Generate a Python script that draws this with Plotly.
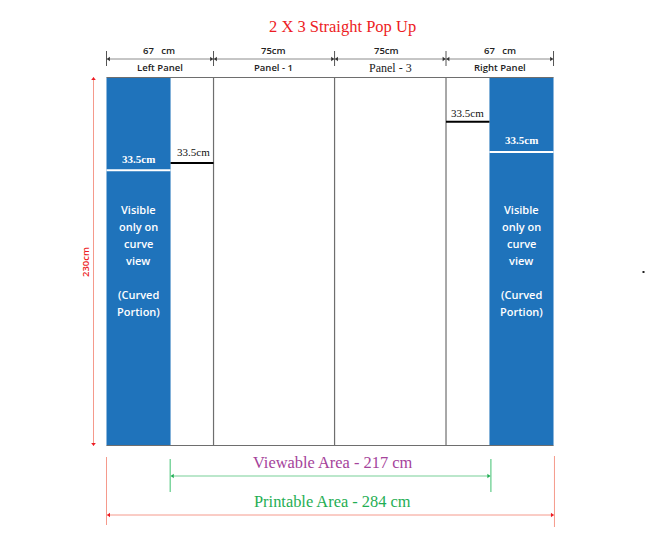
import plotly.graph_objects as go

W, H = 645, 546
PX_X, PX_Y = 1.574, 1.6      # pixels per cm as drawn in the reference
OX, OY = 106.5, 445.5        # pixel position of the wall's bottom-left corner

# Values, in cm on the drawing
panel_edges = [0, 68, 144.9, 215.7, 284]
wall_height = 230
left_blue = [0, 40.7]
right_blue = [243.3, 284]
left_white_y = 172
left_black_y = 176.5
right_white_y = 183.4
right_black_y = 202.3
viewable = [40.5, 244.2]
printable = [0, 284.6]
top_labels = ["Left Panel", "Panel - 1", "Panel - 3", "Right Panel"]
top_sizes = ["67   cm", "75cm", "75cm", "67   cm"]
note_lines = ["Visible", "only on", "curve", "view", "", "(Curved", "Portion)"]

BLUE, GRAY, RED, SALMON, GREEN, LGREEN = "#1f73bb", "#6e6e6e", "#ed1c24", "#f59a8c", "#1fae54", "#a5dfba"
SANS = "Open Sans"
SERIF = "Liberation Serif"

X = lambda p: (p - OX) / PX_X
Y = lambda p: (OY - p) / PX_Y

fig = go.Figure()


def line(xs, ys, color, width=1):
    fig.add_trace(go.Scatter(x=xs, y=ys, mode="lines", line=dict(color=color, width=width),
                             hoverinfo="skip", showlegend=False))


def heads(xs, ys, symbols, color, size=4):
    fig.add_trace(go.Scatter(x=xs, y=ys, mode="markers",
                             marker=dict(symbol=symbols, color=color, size=size),
                             hoverinfo="skip", showlegend=False))


def rect(x0, x1, color):
    fig.add_trace(go.Scatter(x=[x0, x1, x1, x0, x0], y=[0, 0, wall_height, wall_height, 0],
                             mode="lines", fill="toself", fillcolor=color, line=dict(width=0),
                             hoverinfo="skip", showlegend=False))


def text(px, py, s, size, color, family=SANS, weight=400, angle=0):
    fig.add_annotation(x=X(px), y=Y(py), text=s, showarrow=False, textangle=angle,
                       font=dict(family=family, size=size, color=color, weight=weight))


# blue curved portions
rect(*left_blue, BLUE)
rect(*right_blue, BLUE)

# wall outline and panel dividers
line([panel_edges[0], panel_edges[-1]], [wall_height, wall_height], GRAY, 1.2)
line([panel_edges[0], panel_edges[-1]], [0, 0], GRAY, 1.2)
for e in panel_edges[1:-1]:
    line([e, e], [0, wall_height], GRAY, 1.2)

# 33.5 cm height markers
line(left_blue, [left_white_y] * 2, "white", 2)
line(right_blue, [right_white_y] * 2, "white", 2)
line([left_blue[1], panel_edges[1]], [left_black_y] * 2, "black", 2)
line([panel_edges[3], right_blue[0]], [right_black_y] * 2, "black", 2)

# top dimension line with ticks
dim_y, tick_lo, tick_hi = Y(59), Y(66), Y(51)
line([panel_edges[0], panel_edges[-1]], [dim_y] * 2, "#8c8c8c", 1)
for i, e in enumerate(panel_edges):
    line([e, e], [tick_lo, tick_hi], "#555555", 1)
    syms, xs = [], []
    if i > 0:
        xs.append(e - 1.5); syms.append("triangle-right")
    if i < len(panel_edges) - 1:
        xs.append(e + 1.5); syms.append("triangle-left")
    heads(xs, [dim_y] * len(xs), syms, "#333333", 4)

# height dimension
hx = X(93.5)
line([hx, hx], [0, wall_height], SALMON, 1)
heads([hx, hx], [1, wall_height - 1], ["triangle-down", "triangle-up"], RED)

# viewable dimension
vy = Y(476)
line(viewable, [vy, vy], LGREEN, 1.5)
for v in viewable:
    line([v, v], [Y(492), Y(459)], "#7fd6a0", 1.5)
heads([viewable[0] + 1.6, viewable[1] - 1.6], [vy, vy], ["triangle-left", "triangle-right"], GREEN)

# printable dimension
py = Y(515)
line(printable, [py, py], SALMON, 1)
line([printable[0]] * 2, [Y(525), Y(457)], SALMON, 1)
line([printable[1]] * 2, [Y(527), Y(456)], SALMON, 1)
heads([printable[0] + 1.6, printable[1] - 1.6], [py, py], ["triangle-left", "triangle-right"], RED)

# stray dot at the right of the picture
heads([X(643.5)], [Y(272)], ["square"], "#222222", 2)

# texts
text(342, 26, "2 X 3 Straight Pop Up", 16.5, RED, SERIF)
for cx, s in zip([159, 273, 386, 500], top_sizes):
    text(cx, 50, s.replace(" ", "&nbsp;"), 9.5, "#222222", SANS, 600)
text(160, 67, top_labels[0], 9.5, "#222222", SANS, 600)
text(273, 67, top_labels[1], 9.5, "#222222", SANS, 600)
text(390, 68, top_labels[2], 12, "#222222", SERIF)
text(500, 67, top_labels[3], 9.5, "#222222", SANS, 600)

text(138, 159, "33.5cm", 11, "white", SERIF, 700)
text(193, 152, "33.5cm", 11, "#111111", SERIF)
text(467, 113, "33.5cm", 11, "#111111", SERIF)
text(521, 140, "33.5cm", 11, "white", SERIF, 700)

for cx in (138, 521):
    for py_, s in zip([209, 226, 243, 260, 277, 294, 311], note_lines):
        if s:
            text(cx, py_, s, 11, "white", SANS, 600)

text(85, 262, "230cm", 9.5, RED, SANS, 600, angle=-90)
text(332, 462, "Viewable Area - 217 cm", 16.4, "#a5439b", SERIF)
text(332, 501, "Printable Area - 284 cm", 16.4, GREEN, SERIF)

fig.update_layout(
    width=W, height=H, margin=dict(l=0, r=0, t=0, b=0),
    paper_bgcolor="white", plot_bgcolor="white", showlegend=False,
    xaxis=dict(range=[X(0), X(W)], visible=False, fixedrange=True),
    yaxis=dict(range=[Y(H), Y(0)], visible=False, fixedrange=True),
)
fig.write_html("out.html", config=dict(displayModeBar=False),
               post_script="document.body.style.margin='0';document.documentElement.style.overflow='hidden';")
